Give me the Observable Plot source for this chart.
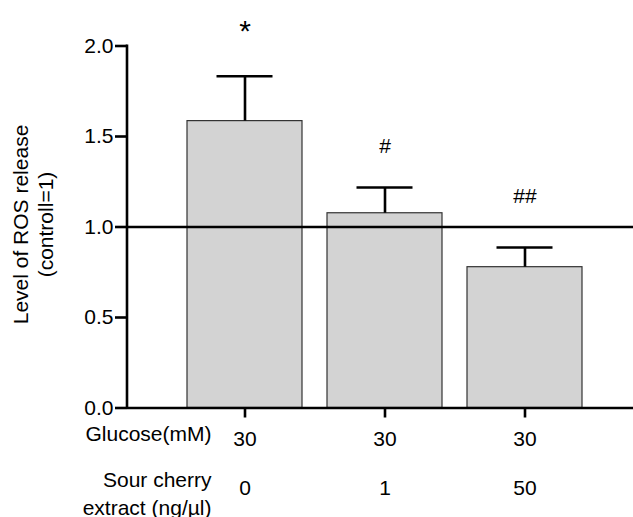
<!DOCTYPE html>
<html>
<head>
<meta charset="utf-8">
<script src="https://cdn.jsdelivr.net/npm/d3@7"></script>
<script src="https://cdn.jsdelivr.net/npm/@observablehq/plot@0.6"></script>
<style>
  html, body { margin: 0; padding: 0; background: #fff; }
  #chart svg { display: block; }
</style>
</head>
<body>
<div id="chart"></div>
<script>
const extract = ["0", "1", "50"];          // Sour cherry extract (ng/µl)
const glucose = ["30", "30", "30"];        // Glucose (mM)
const means = [1.585, 1.076, 0.778];       // Level of ROS release
const errors = [0.248, 0.142, 0.109];      // upper error
const sigLabels = ["*", "#", "##"];
const sigY = [2.083, 1.447, 1.172];
const yTicks = [0, 0.5, 1, 1.5, 2];

const data = extract.map((e, i) => ({
  cat: e, glucose: glucose[i], mean: means[i], top: means[i] + errors[i],
  sig: sigLabels[i], sigY: sigY[i]
}));

const font = "Liberation Sans, Arial, Helvetica, sans-serif";
const fs = 21;

const plot = Plot.plot({
  width: 633,
  height: 517,
  marginLeft: 127,
  marginRight: 0,
  marginTop: 45.5,
  marginBottom: 109.5,
  style: {fontFamily: font, fontSize: fs + "px", color: "#000", background: "#fff"},
  x: {type: "band", domain: extract, range: [186, 584], paddingInner: 0.177, paddingOuter: 0},
  y: {domain: [0, 2]},
  marks: [
    Plot.barY(data, {x: "cat", y: "mean", fill: "#d3d3d3", stroke: "#333", strokeWidth: 1.2}),
    Plot.ruleX(data, {x: "cat", y1: "mean", y2: "top", stroke: "#000", strokeWidth: 2.6}),
    Plot.tickY(data, {x: "cat", y: "top", stroke: "#000", strokeWidth: 2.6, insetLeft: 29.5, insetRight: 29.5}),
    Plot.ruleY([1], {stroke: "#000", strokeWidth: 2.6}),
    Plot.ruleY([0], {stroke: "#000", strokeWidth: 2.6}),
    Plot.axisY({ticks: yTicks, tickFormat: d3.format(".1f"), tickSize: 12, tickPadding: 2,
      stroke: "#000", strokeWidth: 2.6, fontSize: fs, fill: "#000", label: null}),
    Plot.axisX({tickSize: 10, tickPadding: 13, tickFormat: d => glucose[extract.indexOf(d)],
      stroke: "#000", strokeWidth: 2.6, fontSize: fs, fill: "#000", label: null}),
    Plot.text(data, {x: "cat", y: "sigY", text: "sig", fontSize: d => d.sig === "*" ? 30 : fs, fill: "#000", lineAnchor: "middle"}),
    Plot.text(data, {x: "cat", text: "cat", frameAnchor: "bottom", lineAnchor: "bottom", dy: 86.5, fontSize: fs, fill: "#000"}),
    Plot.text(["Glucose(mM)"], {frameAnchor: "bottom-left", textAnchor: "end", lineAnchor: "bottom", dx: 84, dy: 32.5, fontSize: fs, fill: "#000"}),
    Plot.text(["Sour cherry\nextract (ng/\u00b5l)"], {frameAnchor: "bottom-left", textAnchor: "end", lineAnchor: "bottom", lineHeight: 1.29, dx: 84, dy: 106.5, fontSize: fs, fill: "#000"}),
    Plot.text(["Level of ROS release\n(controll=1)"], {frameAnchor: "left", rotate: -90, textAnchor: "middle", lineAnchor: "bottom", lineHeight: 1.15, dx: -75, dy: -2.5, fontSize: fs, fill: "#000"})
  ]
});

// vertical y-axis line drawn with Plot's own y scale
const ys = plot.scale("y");
d3.select(plot).append("line")
  .attr("x1", 127).attr("x2", 127)
  .attr("y1", ys.apply(2) - 1).attr("y2", ys.apply(0) + 1.3)
  .attr("stroke", "#000").attr("stroke-width", 2.6);

document.getElementById("chart").appendChild(plot);
</script>
</body>
</html>
